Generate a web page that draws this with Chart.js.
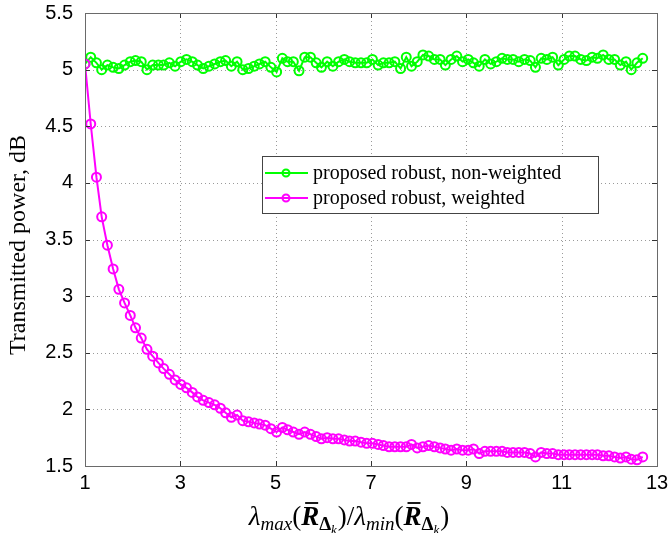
<!DOCTYPE html>
<html><head><meta charset="utf-8">
<script src="https://cdn.jsdelivr.net/npm/chart.js@4.4.0/dist/chart.umd.min.js"></script>
<style>html,body{margin:0;padding:0;background:#fff}#wrap{width:670px;height:533px}</style>
</head><body><div id="wrap"><canvas id="c" width="670" height="533"></canvas></div>
<script>
const xValues = [1.00,1.12,1.24,1.35,1.47,1.59,1.71,1.83,1.95,2.06,2.18,2.30,2.42,2.54,2.65,2.77,2.89,3.01,3.13,3.25,3.36,3.48,3.60,3.72,3.84,3.95,4.07,4.19,4.31,4.43,4.55,4.66,4.78,4.90,5.02,5.14,5.25,5.37,5.49,5.61,5.73,5.85,5.96,6.08,6.20,6.32,6.44,6.55,6.67,6.79,6.91,7.03,7.15,7.26,7.38,7.50,7.62,7.74,7.85,7.97,8.09,8.21,8.33,8.45,8.56,8.68,8.80,8.92,9.04,9.15,9.27,9.39,9.51,9.63,9.75,9.86,9.98,10.10,10.22,10.34,10.45,10.57,10.69,10.81,10.93,11.05,11.16,11.28,11.40,11.52,11.64,11.75,11.87,11.99,12.11,12.23,12.35,12.46,12.58,12.70];
const nonWeighted = [5.05,5.11,5.06,5.00,5.04,5.02,5.01,5.04,5.07,5.08,5.07,5.00,5.04,5.04,5.04,5.06,5.03,5.07,5.09,5.07,5.04,5.01,5.03,5.05,5.07,5.08,5.03,5.07,5.00,5.01,5.03,5.05,5.07,5.02,4.98,5.10,5.07,5.07,4.99,5.11,5.11,5.06,5.02,5.07,5.03,5.07,5.09,5.07,5.06,5.06,5.06,5.09,5.04,5.06,5.06,5.07,5.01,5.11,5.03,5.07,5.13,5.12,5.09,5.09,5.04,5.09,5.12,5.07,5.09,5.06,5.03,5.09,5.05,5.07,5.10,5.09,5.09,5.07,5.09,5.08,5.02,5.10,5.09,5.11,5.04,5.09,5.12,5.12,5.09,5.08,5.11,5.10,5.13,5.09,5.09,5.04,5.07,5.00,5.06,5.10];
const weighted = [5.05,4.52,4.05,3.70,3.45,3.24,3.06,2.94,2.83,2.72,2.63,2.53,2.47,2.41,2.36,2.31,2.26,2.22,2.19,2.15,2.11,2.08,2.06,2.04,2.01,1.97,1.93,1.95,1.90,1.89,1.88,1.87,1.86,1.83,1.80,1.84,1.82,1.80,1.78,1.80,1.78,1.76,1.74,1.75,1.74,1.74,1.73,1.72,1.72,1.71,1.70,1.70,1.69,1.68,1.67,1.67,1.67,1.67,1.69,1.66,1.67,1.68,1.67,1.66,1.65,1.64,1.65,1.64,1.64,1.65,1.61,1.63,1.63,1.63,1.63,1.62,1.62,1.62,1.62,1.61,1.58,1.62,1.61,1.61,1.60,1.60,1.60,1.60,1.60,1.60,1.60,1.60,1.59,1.59,1.58,1.57,1.58,1.56,1.555,1.58];
const seriesNames = ['proposed robust, non-weighted','proposed robust, weighted'];
const seriesColors = ['#00ff00','#ff00ff'];
const yTitle = 'Transmitted power, dB';

const toPts = (ys) => ys.map((y,i)=>({x:xValues[i],y:y}));

const framePlugin = {
  id:'frame',
  beforeDatasetsDraw(chart){
    const {ctx, chartArea:a, scales:{x,y}} = chart;
    ctx.save();
    ctx.strokeStyle='#9a9a9a'; ctx.lineWidth=1; ctx.setLineDash([1,3]);
    x.ticks.forEach(t=>{const px=Math.round(x.getPixelForValue(t.value))+0.5;
      ctx.beginPath();ctx.moveTo(px,a.top);ctx.lineTo(px,a.bottom);ctx.stroke();});
    y.ticks.forEach(t=>{const py=Math.round(y.getPixelForValue(t.value))+0.5;
      ctx.beginPath();ctx.moveTo(a.left,py);ctx.lineTo(a.right,py);ctx.stroke();});
    ctx.restore();
  },
  afterDatasetsDraw(chart){
    const {ctx, chartArea:a, scales:{x,y}} = chart;
    ctx.save();
    ctx.strokeStyle='#333'; ctx.lineWidth=1;
    const tl=5;
    x.ticks.forEach(t=>{const px=Math.round(x.getPixelForValue(t.value))+0.5;
      ctx.beginPath();ctx.moveTo(px,a.bottom);ctx.lineTo(px,a.bottom-tl);ctx.moveTo(px,a.top);ctx.lineTo(px,a.top+tl);ctx.stroke();});
    y.ticks.forEach(t=>{const py=Math.round(y.getPixelForValue(t.value))+0.5;
      ctx.beginPath();ctx.moveTo(a.left,py);ctx.lineTo(a.left+tl,py);ctx.moveTo(a.right,py);ctx.lineTo(a.right-tl,py);ctx.stroke();});
    ctx.strokeStyle='#6a6a6a';
    ctx.strokeRect(Math.round(a.left)+0.5,Math.round(a.top)+0.5,Math.round(a.right-a.left),Math.round(a.bottom-a.top));
    ctx.restore();
  },
  afterDraw(chart){
    const ctx=chart.ctx; const a=chart.chartArea;
    ctx.save();
    // legend
    const lx=262, ly=156, lw=336, lh=57;
    ctx.fillStyle='#fff'; ctx.fillRect(lx,ly,lw,lh);
    ctx.strokeStyle='#444'; ctx.lineWidth=1; ctx.strokeRect(lx+0.5,ly+0.5,lw,lh);
    seriesNames.forEach((n,i)=>{
      const yy=ly+17+i*25;
      ctx.strokeStyle=seriesColors[i]; ctx.lineWidth=2;
      ctx.beginPath();ctx.moveTo(lx+3,yy);ctx.lineTo(lx+46,yy);ctx.stroke();
      ctx.beginPath();ctx.arc(lx+24,yy,3.5,0,Math.PI*2);ctx.stroke();
      ctx.fillStyle='#000'; ctx.font='20px "Liberation Serif"'; ctx.textBaseline='middle'; ctx.textAlign='left';
      ctx.fillText(n,lx+51,yy+1);
    });
    // y title
    ctx.save();
    ctx.translate(19,245); ctx.rotate(-Math.PI/2);
    ctx.font='24px "Liberation Serif"'; ctx.fillStyle='#000'; ctx.textAlign='center'; ctx.textBaseline='middle';
    ctx.fillText(yTitle,0,0);
    ctx.restore();
    // x title (math)
    const base=525, S=27, s=19, ss=13;
    const serif='"Liberation Serif"';
    const parts=[
      {t:'λ',f:`italic ${S}px ${serif}`,dy:0},
      {t:'max',f:`italic ${s}px ${serif}`,dy:5},
      {t:'(',f:`${S}px ${serif}`,dy:0},
      {t:'R',f:`italic bold ${S}px ${serif}`,dy:0,bar:true},
      {t:'Δ',f:`bold ${s}px ${serif}`,dy:5},
      {t:'k',f:`italic ${ss}px ${serif}`,dy:9},
      {t:')',f:`${S}px ${serif}`,dy:0,pre:1},
      {t:'/',f:`${S}px ${serif}`,dy:0},
      {t:'λ',f:`italic ${S}px ${serif}`,dy:0},
      {t:'min',f:`italic ${s}px ${serif}`,dy:5},
      {t:'(',f:`${S}px ${serif}`,dy:0},
      {t:'R',f:`italic bold ${S}px ${serif}`,dy:0,bar:true},
      {t:'Δ',f:`bold ${s}px ${serif}`,dy:5},
      {t:'k',f:`italic ${ss}px ${serif}`,dy:9},
      {t:')',f:`${S}px ${serif}`,dy:0,pre:1}
    ];
    let total=0;
    parts.forEach(p=>{ctx.font=p.f; p.w=ctx.measureText(p.t).width; total+=p.w+(p.pre||0);});
    let cx=349-total/2;
    ctx.fillStyle='#000'; ctx.textAlign='left'; ctx.textBaseline='alphabetic';
    parts.forEach(p=>{
      cx+=(p.pre||0);
      ctx.font=p.f; ctx.fillText(p.t,cx,base+p.dy);
      if(p.bar){ctx.strokeStyle='#000';ctx.lineWidth=1.8;ctx.beginPath();ctx.moveTo(cx+4,base-22);ctx.lineTo(cx+p.w-1,base-22);ctx.stroke();}
      cx+=p.w;
    });
    ctx.restore();
  }
};

new Chart(document.getElementById('c'),{
  type:'line',
  data:{datasets:[
    {label:seriesNames[0],data:toPts(nonWeighted),borderColor:seriesColors[0],backgroundColor:'rgba(0,0,0,0)',borderWidth:2,pointRadius:4.5,pointBorderWidth:2,pointBackgroundColor:'rgba(0,0,0,0)',pointBorderColor:seriesColors[0],tension:0,order:1},
    {label:seriesNames[1],data:toPts(weighted),borderColor:seriesColors[1],backgroundColor:'rgba(0,0,0,0)',borderWidth:2,pointRadius:4.5,pointBorderWidth:2,pointBackgroundColor:'rgba(0,0,0,0)',pointBorderColor:seriesColors[1],tension:0,order:0}
  ]},
  options:{
    responsive:false,animation:false,
    layout:{padding:{top:13,right:13,left:0,bottom:0}},
    plugins:{legend:{display:false},tooltip:{enabled:false}},
    scales:{
      x:{type:'linear',min:1,max:13,
        ticks:{stepSize:2,color:'#000',font:{family:'"Liberation Sans"',size:20},padding:5,maxRotation:0,callback:(v)=>String(v)},
        grid:{display:false,drawTicks:false},
        border:{display:false},
        afterFit:(s)=>{s.height=67;s.paddingLeft=0;s.paddingRight=0;}
      },
      y:{min:1.5,max:5.5,
        ticks:{stepSize:0.5,color:'#000',font:{family:'"Liberation Sans"',size:20},padding:12,callback:(v)=>String(v)},
        grid:{display:false,drawTicks:false},
        border:{display:false},
        afterFit:(s)=>{s.width=85;s.paddingTop=0;s.paddingBottom=0;}
      }
    }
  },
  plugins:[framePlugin]
});
</script></body></html>
